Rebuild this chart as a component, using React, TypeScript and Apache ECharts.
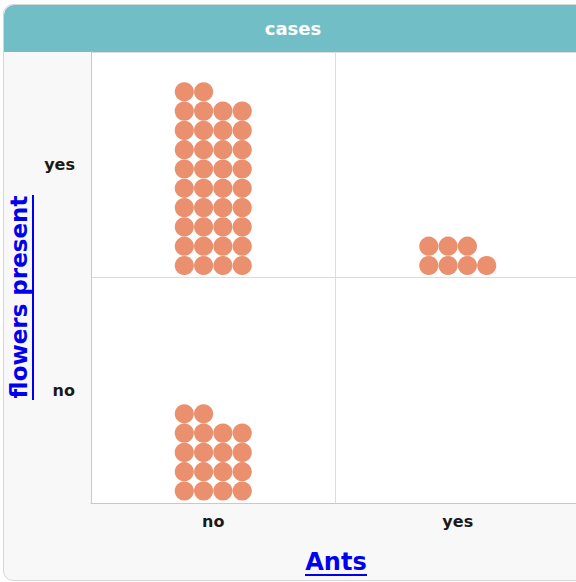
import React, { useEffect, useRef } from "react";
import * as echarts from "echarts";

const xCategories = ["no", "yes"];
const yCategories = ["no", "yes"];
// [antsIndex, flowersIndex, count]
const caseCounts: [number, number, number][] = [
  [0, 0, 18],
  [0, 1, 38],
  [1, 0, 0],
  [1, 1, 7],
];
const headerTitle = "cases";
const xAxisTitle = "Ants";
const yAxisTitle = "flowers present";

const FONT = "DejaVu Sans";
const DOT_COLOR = "#ea906f";
const PER_ROW = 4;
const STEP = 19.3;
const RADIUS = 9.6;

export default function App() {
  const ref = useRef<HTMLDivElement>(null);
  useEffect(() => {
    if (!ref.current) return;
    const chart = echarts.init(ref.current, null, { renderer: "svg" });
    const option: any = {
      animation: false,
      backgroundColor: "transparent",
      grid: {
        left: 91,
        top: 52,
        right: 10,
        bottom: 79,
        show: true,
        backgroundColor: "#ffffff",
        borderWidth: 0,
      },
      xAxis: {
        type: "category",
        data: xCategories,
        axisLine: { lineStyle: { color: "#c9c9c9" } },
        axisTick: { alignWithLabel: true, length: 5, lineStyle: { color: "#c9c9c9" } },
        axisLabel: { fontSize: 16, fontWeight: "bold", color: "#1a1a1a", margin: 10, fontFamily: FONT },
        splitLine: { show: true, lineStyle: { color: "#dcdcdc" } },
      },
      yAxis: {
        type: "category",
        data: yCategories,
        axisLine: { lineStyle: { color: "#c9c9c9" } },
        axisTick: { alignWithLabel: true, length: 6, lineStyle: { color: "#c9c9c9" } },
        axisLabel: { fontSize: 16, fontWeight: "bold", color: "#1a1a1a", margin: 16, fontFamily: FONT },
        splitLine: { show: true, lineStyle: { color: "#dcdcdc" } },
      },
      series: [
        {
          type: "custom",
          data: caseCounts,
          renderItem: (params: any, api: any) => {
            const xi = api.value(0);
            const yi = api.value(1);
            const n = api.value(2);
            const c = api.coord([xi, yi]);
            const band = api.size([1, 1]);
            const bottom = c[1] + band[1] / 2 - 12;
            const children: any[] = [];
            for (let i = 0; i < n; i++) {
              const row = Math.floor(i / PER_ROW);
              const col = i % PER_ROW;
              children.push({
                type: "circle",
                shape: {
                  cx: c[0] + (col - (PER_ROW - 1) / 2) * STEP,
                  cy: bottom - row * STEP,
                  r: RADIUS,
                },
                style: { fill: DOT_COLOR },
              });
            }
            return { type: "group", children };
          },
        },
      ],
      graphic: [
        {
          type: "rect",
          shape: { x: 4, y: 5, width: 640, height: 47, r: [10, 10, 0, 0] },
          style: { fill: "#72bec7" },
        },
        {
          type: "text",
          x: 293,
          y: 28,
          style: {
            text: headerTitle,
            fill: "#ffffff",
            fontSize: 18,
            fontWeight: "bold",
            fontFamily: FONT,
            align: "center",
            verticalAlign: "middle",
          },
        },
        {
          type: "text",
          x: 336,
          y: 562,
          style: {
            text: xAxisTitle,
            fill: "#0000ee",
            fontSize: 24,
            fontWeight: "bold",
            fontFamily: FONT,
            align: "center",
            verticalAlign: "middle",
          },
        },
        {
          type: "rect",
          shape: { x: 305, y: 574, width: 62, height: 2 },
          style: { fill: "#0000ee" },
        },
        {
          type: "text",
          x: 19,
          y: 297,
          rotation: Math.PI / 2,
          style: {
            text: yAxisTitle,
            fill: "#0000ee",
            fontSize: 23,
            fontWeight: "bold",
            fontFamily: FONT,
            align: "center",
            verticalAlign: "middle",
          },
        },
        {
          type: "rect",
          shape: { x: 32, y: 195, width: 2, height: 205 },
          style: { fill: "#0000ee" },
        },
      ],
    };
    chart.setOption(option);
    return () => chart.dispose();
  }, []);

  return (
    <div
      style={{
        position: "absolute",
        left: 0,
        top: 0,
        width: 576,
        height: 582,
        overflow: "hidden",
        background: "#ffffff",
      }}
    >
      <div
        style={{
          position: "absolute",
          left: 3,
          top: 4,
          width: 640,
          height: 575,
          border: "1px solid #d6d6d6",
          borderRadius: 10,
          background: "#f8f8f8",
        }}
      />
      <div
        ref={ref}
        style={{ position: "absolute", left: 0, top: 0, width: 590, height: 582 }}
      />
    </div>
  );
}
